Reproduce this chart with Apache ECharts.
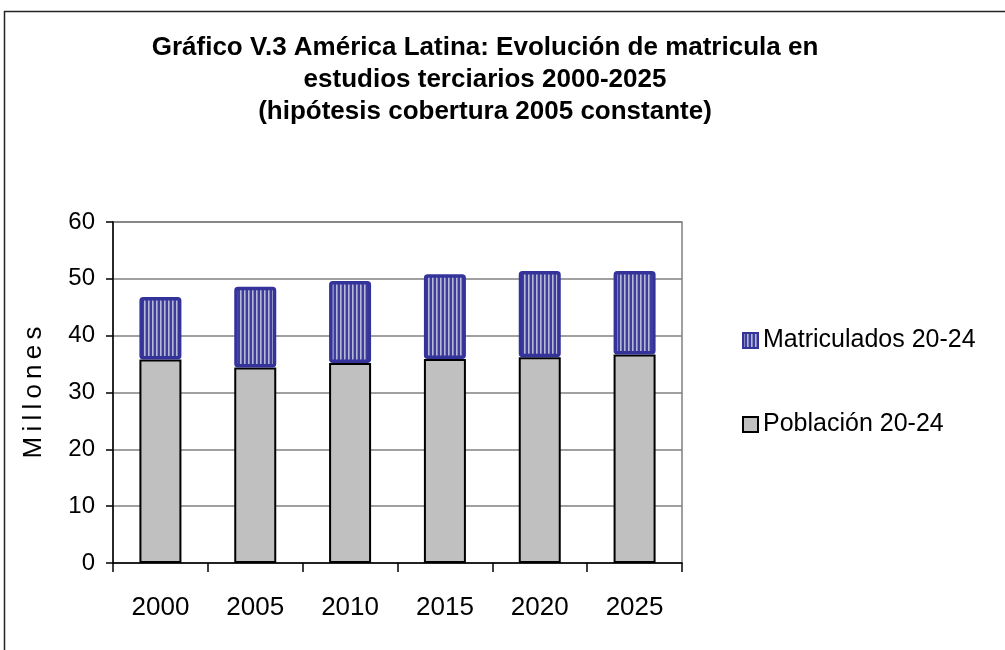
<!DOCTYPE html>
<html>
<head>
<meta charset="utf-8">
<script src="https://cdn.jsdelivr.net/npm/echarts@6/dist/echarts.min.js"></script>
<style>
  html, body { margin: 0; padding: 0; background: #fff; }
  #chart { width: 1005px; height: 650px; }
</style>
</head>
<body>
<div id="chart"></div>
<script>
// Years on the category axis
const years = ['2000', '2005', '2010', '2015', '2020', '2025'];
// Stacked values, millions
const poblacion = [35.8, 34.4, 35.2, 35.9, 36.2, 36.7];
const matriculados = [11.0, 14.2, 14.4, 14.9, 15.2, 14.7];
// Value axis ticks
const yMin = 0, yMax = 60, yStep = 10;

const FONT = '"Liberation Sans", Arial, sans-serif';

// Vertical-stripe fill for the enrolment bars
function stripePattern() {
  const c = document.createElement('canvas');
  c.width = 4; c.height = 4;
  const g = c.getContext('2d');
  g.fillStyle = '#3d3d9e'; g.fillRect(0, 0, 4, 4);
  g.fillStyle = '#b6b6d6'; g.fillRect(0, 0, 1, 4);
  g.fillStyle = '#8585bd'; g.fillRect(1, 0, 1, 4);
  return { image: c, repeat: 'repeat' };
}

const chart = echarts.init(document.getElementById('chart'), null, { renderer: 'canvas' });

chart.setOption({
  backgroundColor: '#fff',
  animation: false,
  title: {
    text: 'Gráfico V.3 América Latina: Evolución de matricula en\nestudios terciarios 2000-2025\n(hipótesis cobertura 2005 constante)',
    left: 485,
    textAlign: 'center',
    top: 32,
    padding: 0,
    textStyle: { fontFamily: FONT, fontSize: 26, fontWeight: 'bold', color: '#000', lineHeight: 32 }
  },
  graphic: [{
    type: 'rect',
    shape: { x: 4.5, y: 11.5, width: 1100, height: 800 },
    style: { fill: 'none', stroke: '#222', lineWidth: 1.5 },
    silent: true
  }],
  legend: {
    orient: 'vertical',
    left: 737,
    top: 323,
    icon: 'rect',
    itemWidth: 15,
    itemHeight: 15,
    itemGap: 59,
    data: ['Matriculados 20-24', 'Población 20-24'],
    textStyle: { fontFamily: FONT, fontSize: 25, color: '#000' }
  },
  grid: {
    left: 113, top: 222, width: 569, height: 341,
    show: true, borderColor: '#808080', borderWidth: 1.5, backgroundColor: 'transparent'
  },
  xAxis: {
    type: 'category',
    data: years,
    axisLine: { lineStyle: { color: '#000', width: 1.5 } },
    axisTick: { show: true, alignWithLabel: false, length: 9, lineStyle: { color: '#000', width: 1.5 } },
    axisLabel: { fontFamily: FONT, fontSize: 26, color: '#000', margin: 32 }
  },
  yAxis: {
    type: 'value',
    min: yMin, max: yMax, interval: yStep,
    name: 'M\u2009i\u2009l\u2009l\u2009o\u2009n\u2009e\u2009s',
    nameLocation: 'middle',
    nameGap: 66,
    nameRotate: 90,
    nameTextStyle: { fontFamily: FONT, fontSize: 26, color: '#000' },
    axisLine: { show: true, lineStyle: { color: '#000', width: 1.5 } },
    axisTick: { show: true, length: 7, lineStyle: { color: '#000', width: 1.5 } },
    axisLabel: { fontFamily: FONT, fontSize: 24, color: '#000', margin: 18 },
    splitLine: { lineStyle: { color: '#808080', width: 1.5 } }
  },
  series: [
    {
      name: 'Población 20-24',
      type: 'bar',
      stack: 'total',
      barWidth: 42,
      data: poblacion,
      itemStyle: { color: '#c0c0c0', borderColor: '#000', borderWidth: 2 }
    },
    {
      name: 'Matriculados 20-24',
      type: 'bar',
      stack: 'total',
      barWidth: 42,
      data: matriculados,
      itemStyle: { color: stripePattern(), borderColor: '#333399', borderWidth: 3.5, borderRadius: 2 }
    }
  ]
});
</script>
</body>
</html>
